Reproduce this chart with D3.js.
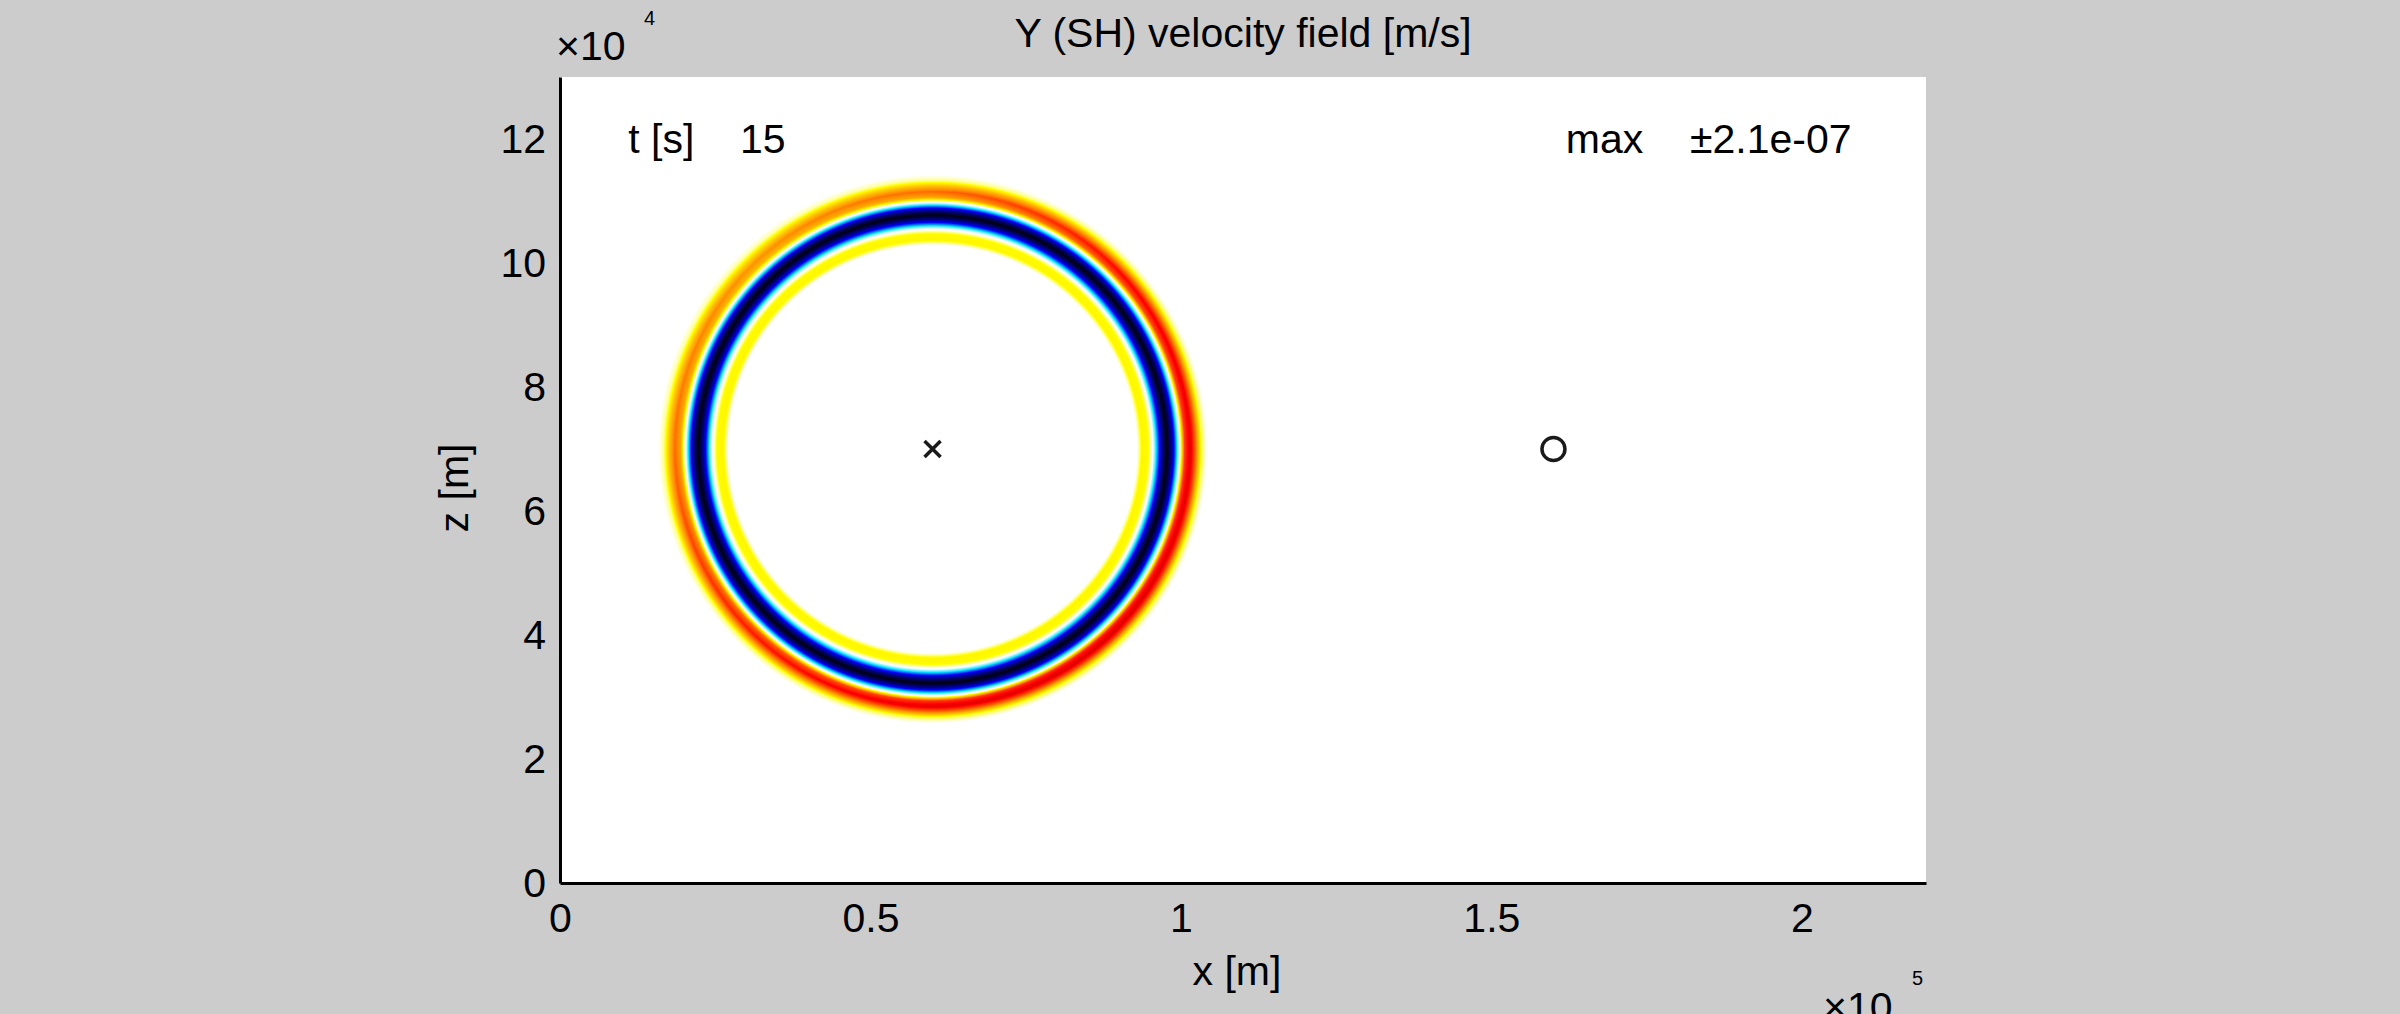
<!DOCTYPE html>
<html>
<head>
<meta charset="utf-8">
<script src="https://cdn.jsdelivr.net/npm/d3@7"></script>
<style>
  html, body { margin: 0; padding: 0; background: #cccccc; overflow: hidden; }
  svg { display: block; }
  text { font-family: "Liberation Sans", Arial, Helvetica, sans-serif; fill: #000; }
</style>
</head>
<body>
<svg id="chart" width="2400" height="1014"></svg>
<script>
// Snapshot of the SH (y) velocity field at t = 15 s


// -- Data -- //
// Axis ranges and ticks (m)
const xDomain = [0, 2.2e5];
const zDomain = [0, 1.3e5];
const xTicks = [0, 0.5e5, 1e5, 1.5e5, 2e5];
const zTicks = [0, 2e4, 4e4, 6e4, 8e4, 10e4, 12e4];

// Source (x) and receiver (o) positions, [x, z] in m
const sourcePos = [6e4, 7e4];
const receiverPos = [1.6e5, 7e4];

// Radial profile of the wavefront around the source, normalised by max amplitude
const ringRadius = [32900, 33700, 34700, 35400, 36000, 36750, 37740, 38700, 39350, 39840, 40600, 41500, 42400, 43300, 44200];
const ringValue  = [0, 0.17, 0.16, 0, -0.18, -0.55, -1, -0.55, -0.18, 0, 0.55, 0.72, 0.45, 0.12, 0];

// Strength of the outer (positive) lobe by azimuth, deg counter-clockwise from +x
const lobeAngle = [0, 45, 90, 135, 180, 225, 270, 315, 360];
const lobeGain  = [1.0, 0.9, 0.65, 0.55, 0.65, 0.85, 1.0, 1.05, 1.0];
const lobeStart = 39840;

// Colour map (normalised amplitude -> colour)
const cmapValue  = [-1, -0.7, -0.45, -0.2, -0.05, 0, 0.06, 0.15, 0.4, 0.65, 1];
const cmapColour = ["#000010", "#00007a", "#0000ff", "#00e0ff", "#e0ffff", "#ffffff",
                    "#ffffb0", "#ffff00", "#ff9000", "#ff0000", "#800000"];

// Texts
const titleText = "Y (SH) velocity field [m/s]";
const xLabel = "x [m]";
const zLabel = "z [m]";
const timeText = ["t [s]", "15"];
const maxText = ["max", "\u00b12.1e-07"];


// -- Layout -- //
const box = {left: 560, right: 1926, top: 77, bottom: 883};
const fontSize = 41;
const expSize = 20;

const svg = d3.select("#chart");
const x = d3.scaleLinear().domain(xDomain).range([box.left, box.right]);
const z = d3.scaleLinear().domain(zDomain).range([box.bottom, box.top]);

// White plot area
svg.append("rect")
  .attr("x", box.left).attr("y", box.top)
  .attr("width", box.right - box.left).attr("height", box.bottom - box.top)
  .attr("fill", "#ffffff");


// -- Field image -- //
// Rendered on a canvas, one pixel per screen pixel, then placed in the SVG
drawField();

function drawField() {
  let w = box.right - box.left;
  let h = box.bottom - box.top;
  let canvas = document.createElement("canvas");
  canvas.width = w;
  canvas.height = h;
  let ctx = canvas.getContext("2d");
  ctx.fillStyle = "#ffffff";
  ctx.fillRect(0, 0, w, h);
  let img = ctx.getImageData(0, 0, w, h);
  let profile = d3.scaleLinear().domain(ringRadius).range(ringValue).clamp(true);
  let gain = d3.scaleLinear().domain(lobeAngle).range(lobeGain);
  let colour = d3.scaleLinear().domain(cmapValue).range(cmapColour).clamp(true);
  // Lookup table, so colour strings are parsed once
  let n = 1024;
  let lut = d3.range(n + 1).map(i => d3.rgb(colour(-1 + 2 * i / n)));
  let rMax = ringRadius[ringRadius.length - 1];
  let rMin = ringRadius[0];
  // Only scan the square around the ring
  let px0 = Math.max(0, Math.floor(x(sourcePos[0] - rMax) - box.left));
  let px1 = Math.min(w, Math.ceil(x(sourcePos[0] + rMax) - box.left));
  let py0 = Math.max(0, Math.floor(z(sourcePos[1] + rMax) - box.top));
  let py1 = Math.min(h, Math.ceil(z(sourcePos[1] - rMax) - box.top));
  for (let py = py0; py < py1; py++) {
    let zm = z.invert(box.top + py + 0.5);
    for (let px = px0; px < px1; px++) {
      let xm = x.invert(box.left + px + 0.5);
      let dx = xm - sourcePos[0];
      let dz = zm - sourcePos[1];
      let r = Math.hypot(dx, dz);
      if (r <= rMin || r >= rMax) continue;
      let v = profile(r);
      if (r > lobeStart) {
        let a = Math.atan2(dz, dx) * 180 / Math.PI;
        if (a < 0) a += 360;
        v *= gain(a);
      }
      let c = lut[Math.max(0, Math.min(n, Math.round((v + 1) / 2 * n)))];
      let k = (py * w + px) * 4;
      img.data[k] = c.r;
      img.data[k + 1] = c.g;
      img.data[k + 2] = c.b;
      img.data[k + 3] = 255;
    }
  }
  ctx.putImageData(img, 0, 0);
  svg.append("image")
    .attr("x", box.left).attr("y", box.top)
    .attr("width", w).attr("height", h)
    .attr("preserveAspectRatio", "none")
    .attr("href", canvas.toDataURL());
};


// -- Markers -- //
let sx = x(sourcePos[0]);
let sz = z(sourcePos[1]);
let arm = 8;
svg.append("path")
  .attr("d", `M${sx - arm},${sz - arm}L${sx + arm},${sz + arm}M${sx - arm},${sz + arm}L${sx + arm},${sz - arm}`)
  .attr("stroke", "#1a1a1a")
  .attr("stroke-width", 3.5)
  .attr("fill", "none");
svg.append("circle")
  .attr("cx", x(receiverPos[0]))
  .attr("cy", z(receiverPos[1]))
  .attr("r", 11.5)
  .attr("stroke", "#1a1a1a")
  .attr("stroke-width", 3.5)
  .attr("fill", "none");


// -- Axes -- //
let xAxis = d3.axisBottom(x)
  .tickValues(xTicks)
  .tickFormat(d => d / 1e5)
  .tickSize(0)
  .tickSizeOuter(0)
  .tickPadding(20);
let zAxis = d3.axisLeft(z)
  .tickValues(zTicks)
  .tickFormat(d => d / 1e4)
  .tickSize(0)
  .tickSizeOuter(0)
  .tickPadding(14);

svg.append("g")
  .attr("transform", `translate(0,${box.bottom})`)
  .call(xAxis)
  .call(styleAxis);
svg.append("g")
  .attr("transform", `translate(${box.left},0)`)
  .call(zAxis)
  .call(styleAxis);

function styleAxis(g) {
  g.attr("font-size", fontSize)
   .attr("font-family", null);
  g.select(".domain")
   .attr("stroke", "#000")
   .attr("stroke-width", 3);
  g.selectAll("text").attr("fill", "#000");
};


// -- Texts -- //
svg.append("text")
  .attr("x", (box.left + box.right) / 2)
  .attr("y", 47)
  .attr("text-anchor", "middle")
  .attr("font-size", fontSize)
  .text(titleText);

svg.append("text")
  .attr("x", 1237)
  .attr("y", 985)
  .attr("text-anchor", "middle")
  .attr("font-size", fontSize)
  .text(xLabel);

svg.append("text")
  .attr("transform", "translate(468,488) rotate(-90)")
  .attr("text-anchor", "middle")
  .attr("font-size", fontSize)
  .text(zLabel);

// Axis exponents
addExponent(556, 60, 644, 25, "4");
addExponent(1823, 1021, 1912, 985, "5");

function addExponent(bx, by, ex, ey, power) {
  svg.append("text")
    .attr("x", bx).attr("y", by)
    .attr("font-size", fontSize)
    .text("\u00d710");
  svg.append("text")
    .attr("x", ex).attr("y", ey)
    .attr("font-size", expSize)
    .text(power);
};

// In-plot annotations, placed in data units
let noteZ = 1.2e5;
let notes = [
  {x: 1.1e4, text: timeText[0]},
  {x: 2.9e4, text: timeText[1]},
  {x: 1.62e5, text: maxText[0]},
  {x: 1.82e5, text: maxText[1]},
];
svg.append("g").selectAll("text")
  .data(notes)
  .join("text")
  .attr("x", d => x(d.x))
  .attr("y", z(noteZ))
  .attr("dy", "0.34em")
  .attr("font-size", fontSize)
  .text(d => d.text);
</script>
</body>
</html>
